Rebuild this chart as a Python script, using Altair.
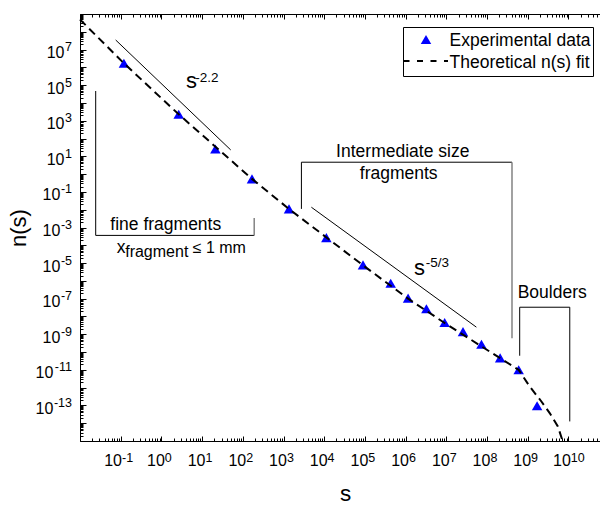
import altair as alt
import pandas as pd

# Experimental fragment-size distribution n(s)
exp_s = [0.12, 2.66, 21.2, 168, 1365, 1.13e4, 8.97e4, 4.3e5, 1.15e6, 3.24e6,
         9.1e6, 2.57e7, 7.3e7, 2.1e8, 6.0e8, 1.7e9]
exp_n = [1.7e6, 2.3e3, 26, 0.54, 0.0111, 2.7e-4, 7.9e-6, 7.4e-7, 1.07e-7, 2.7e-8,
         4.6e-9, 1.4e-9, 2.75e-10, 4.7e-11, 1.0e-11, 9.5e-14]

# Theoretical n(s) fit, sampled along the curve
fit_s = [0.01, 0.12, 2.66, 168, 1365, 9.0e4, 1.15e6, 9.1e6, 2.1e8, 6.0e8,
         1.12e9, 2.17e9, 3.47e9, 5.5e9, 7.2e9]
fit_n = [4.9e8, 1.7e6, 2.3e3, 0.54, 0.011, 7.5e-6, 1.0e-7, 4.3e-9, 4.5e-11, 1.0e-11,
         1.15e-12, 1.66e-13, 3.7e-14, 6.6e-15, 1.0e-15]

# Power-law guide lines (two end points each)
guide_id = ["a", "a", "b", "b"]
guide_s = [0.0753, 50.5, 4842, 5.48e7]
guide_n = [3.46e7, 22.9, 0.0138, 2.5e-9]

# Brackets marking the size classes (polyline vertices)
bracket_id = ["fine"] * 3 + ["mid"] * 3 + ["boulder"] * 4
bracket_s = [0.0243, 0.0243, 190.5,
             2754, 2754, 4.11e8,
             6.35e8, 6.35e8, 1.08e10, 1.08e10]
bracket_n = [4.7e4, 3.6e-4, 3.6e-4,
             0.0111, 4.67, 4.67,
             6.2e-11, 3.3e-8, 3.3e-8, 1.26e-14]

# Closing sides of the fine and intermediate brackets
side_s = [190.5, 4.11e8]
side_n_top = [3.46e-3, 4.67]
side_n_bottom = [3.6e-4, 6.0e-10]

# Annotation texts
label_text = ["fine fragments", "Intermediate size", "fragments", "Boulders"]
label_s = [1.28, 8.5e5, 6.76e5, 4.0e9]
label_n = [6.9e-4, 8.67, 0.503, 1.11e-7]

slope_text = ["s", "s"]
slope_s = [4.0, 1.6e6]
slope_n = [6.97e4, 2.17e-6]

sup_text = ["-2.2", "-5/3"]
sup_s = [6.76, 3.12e6]
sup_n = [1.57e5, 6.35e-6]

frag_text = ["x"]
frag_s = [0.0798]
frag_n = [3.74e-5]

sub_text = ["fragment", "\u2264 1 mm"]
sub_s = [0.129, 5.88]
sub_n = [2.23e-5, 3.74e-5]

legend_text = ["Experimental data", "Theoretical n(s) fit"]

# Axis tick positions
x_major = [10.0 ** k for k in range(-2, 11)]
x_minor = [m * 10.0 ** k for k in range(-2, 11) for m in range(2, 10) if m * 10.0 ** k < 5.9e10]
x_labeled = [10.0 ** k for k in range(-1, 11)]
y_major = [10.0 ** k for k in range(-15, 10)]
y_minor = [m * 10.0 ** k for k in range(-15, 9) for m in range(2, 10)]
y_labeled = [10.0 ** k for k in range(-13, 8, 2)]

W, H = 520, 427
FONT = "Liberation Sans"

xs = alt.Scale(type="log", domain=[1e-2, 5.97e10], nice=False)
ys = alt.Scale(type="log", domain=[1e-15, 1e9], nice=False)

exp_df = pd.DataFrame({"s": exp_s, "n": exp_n})
fit_df = pd.DataFrame({"s": fit_s, "n": fit_n})
guide_df = pd.DataFrame({"g": guide_id, "s": guide_s, "n": guide_n})
bracket_df = pd.DataFrame({"b": bracket_id, "s": bracket_s, "n": bracket_n,
                           "i": list(range(len(bracket_s)))})
side_df = pd.DataFrame({"s": side_s, "n": side_n_top, "n2": side_n_bottom})
label_df = pd.DataFrame({"t": label_text, "s": label_s, "n": label_n})
slope_df = pd.DataFrame({"t": slope_text, "s": slope_s, "n": slope_n})
sup_df = pd.DataFrame({"t": sup_text, "s": sup_s, "n": sup_n})
frag_df = pd.DataFrame({"t": frag_text, "s": frag_s, "n": frag_n})
sub_df = pd.DataFrame({"t": sub_text, "s": sub_s, "n": sub_n})

EXP_K = "round(log(datum.value)/LN10)"
EXP_LABEL = f"({EXP_K} < 0 ? '-' : '') + abs({EXP_K})"
EXP_W = f"(({EXP_K} < 0 ? 4.2 : 0) + (abs({EXP_K}) >= 10 ? 14 : 7))"
X_OFF = f"(17.8 - {EXP_W}) / 2 - (abs({EXP_K}) >= 10 ? 0 : 2.5)"

common = dict(grid=False, labelFont=FONT, titleFont=FONT, labelColor="black",
              domainColor="black", tickColor="black", labelOverlap=False,
              labelFlush=False)

# bottom axis: base "10" labels, domain line and title
ax_x_base = alt.Axis(orient="bottom", values=x_labeled, labelExpr="'10'",
                     labelAlign="right", labelOffset={"expr": X_OFF},
                     labelPadding=11, labelFontSize=16, labelBaseline="top",
                     ticks=False, domain=True, title="s", titleFontSize=22.5,
                     titleFontWeight="normal", titleX=265, titleY=59,
                     titleBaseline="alphabetic", titleAlign="center", **common)
# bottom axis: exponent labels
ax_x_exp = alt.Axis(orient="bottom", values=x_labeled, labelExpr=EXP_LABEL,
                    labelAlign="left", labelOffset={"expr": X_OFF},
                    labelPadding=10, labelFontSize=12.5, labelBaseline="top",
                    ticks=False, domain=False, title=None, **common)
# inward ticks along the bottom
ax_x_bmaj = alt.Axis(orient="top", offset=-H, values=x_major, labels=False,
                     domain=False, ticks=True, tickSize=5, title=None, **common)
ax_x_bmin = alt.Axis(orient="top", offset=-H, values=x_minor, labels=False,
                     domain=False, ticks=True, tickSize=3, title=None, **common)
# top frame with inward ticks
ax_x_tmaj = alt.Axis(orient="bottom", offset=-H, values=x_major, labels=False,
                     domain=True, ticks=True, tickSize=5, title=None, **common)
ax_x_tmin = alt.Axis(orient="bottom", offset=-H, values=x_minor, labels=False,
                     domain=False, ticks=True, tickSize=3, title=None, **common)

# left axis: base "10" labels, domain line and title
ay_base = alt.Axis(orient="left", values=y_labeled, labelExpr="'10'",
                   labelAlign="right", labelBaseline="middle", labelOffset=3,
                   labelPadding={"expr": f"9 + {EXP_W}"}, labelFontSize=16,
                   ticks=False, domain=True, title="n(s)", titleFontSize=22,
                   titleFontWeight="normal", titleX=-62, titleY=H / 2,
                   titleAngle=270, titleAlign="center", titleBaseline="middle",
                   **common)
ay_exp = alt.Axis(orient="left", values=y_labeled, labelExpr=EXP_LABEL,
                  labelAlign="right", labelBaseline="middle", labelOffset=-3,
                  labelPadding=8.5, labelFontSize=12.5, ticks=False, domain=False,
                  title=None, **common)
ay_maj = alt.Axis(orient="right", offset=-W, values=y_major, labels=False,
                  domain=False, ticks=True, tickSize=6, title=None, **common)
ay_min = alt.Axis(orient="right", offset=-W, values=y_minor, labels=False,
                  domain=False, ticks=True, tickSize=3, title=None, **common)


def X(axis=None):
    return alt.X("s:Q", scale=xs, axis=axis)


def Y(axis=None):
    return alt.Y("n:Q", scale=ys, axis=axis)


def guide_layer(xaxis=None, yaxis=None):
    return alt.Chart(exp_df).mark_point(opacity=0).encode(x=X(xaxis), y=Y(yaxis))


def text_layer(df, size, align="left"):
    return alt.Chart(df).mark_text(
        font=FONT, fontSize=size, align=align, baseline="alphabetic", color="black"
    ).encode(x=X(), y=Y(), text="t:N")


layers = [
    guide_layer(ax_x_exp, ay_exp),
    guide_layer(ax_x_bmaj, ay_maj),
    guide_layer(ax_x_bmin, ay_min),
    guide_layer(ax_x_tmaj),
    guide_layer(ax_x_tmin),
]

points = alt.Chart(exp_df).mark_point(
    shape="triangle-up", filled=True, color="#0000ff", size=110, opacity=1
).encode(x=X(ax_x_base), y=Y(ay_base))

fit = alt.Chart(fit_df).mark_line(
    color="black", strokeWidth=2, strokeDash=[8, 5]
).encode(x=X(), y=Y())

guides = alt.Chart(guide_df).mark_line(color="black", strokeWidth=1).encode(
    x=X(), y=Y(), detail="g:N")

brackets = alt.Chart(bracket_df).mark_line(color="black", strokeWidth=1).encode(
    x=X(), y=Y(), detail="b:N", order="i:Q")

sides = alt.Chart(side_df).mark_rule(color="#7a7a7a", strokeWidth=1.4).encode(
    x=X(), y=Y(), y2="n2:Q")

# legend box
one = pd.DataFrame({"k": [0]})
leg_box = alt.Chart(one).mark_rect(fill="white", stroke="black", strokeWidth=1).encode(
    x=alt.value(323.5), x2=alt.value(513.5), y=alt.value(13.5), y2=alt.value(62.5))
leg_tri = alt.Chart(one).mark_point(
    shape="triangle-up", filled=True, color="#0000ff", size=110, opacity=1
).encode(x=alt.value(346), y=alt.value(25.5))
leg_dash = alt.Chart(one).mark_rule(color="black", strokeWidth=2, strokeDash=[6, 7.5]).encode(
    x=alt.value(323.5), x2=alt.value(368), y=alt.value(47))
leg_t1 = alt.Chart(pd.DataFrame({"t": [legend_text[0]]})).mark_text(
    font=FONT, fontSize=17.5, align="left", baseline="alphabetic", color="black"
).encode(x=alt.value(369.5), y=alt.value(32), text="t:N")
leg_t2 = alt.Chart(pd.DataFrame({"t": [legend_text[1]]})).mark_text(
    font=FONT, fontSize=17.5, align="left", baseline="alphabetic", color="black"
).encode(x=alt.value(369.5), y=alt.value(53.5), text="t:N")

layers += [points, fit, guides, brackets, sides,
           text_layer(label_df, 17.5, "center"),
           text_layer(slope_df, 22),
           text_layer(sup_df, 13.5),
           text_layer(frag_df, 17.5),
           text_layer(sub_df, 16),
           leg_box, leg_tri, leg_dash, leg_t1, leg_t2]

chart = alt.layer(*layers).resolve_axis(
    x="independent", y="independent"
).properties(
    width=W, height=H,
    padding={"left": 80, "top": 14, "right": 0, "bottom": 64},
    autosize=alt.AutoSizeParams(type="none"),
).configure_view(stroke="transparent").configure(background="white")

chart.save("out.html", embed_options={"renderer": "svg", "actions": False})
